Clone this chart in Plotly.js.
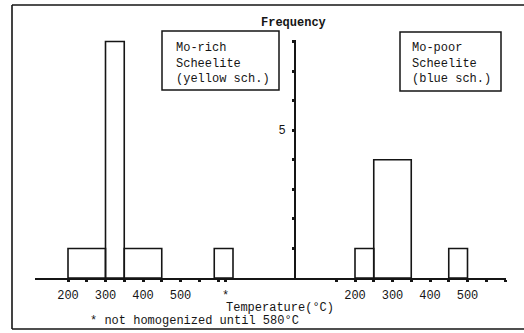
<!DOCTYPE html>
<html>
<head>
<meta charset="utf-8">
<script src="https://cdn.plot.ly/plotly-3.0.1.min.js"></script>
<style>html,body{margin:0;padding:0;background:#fff;}#chart{width:524px;height:333px;}</style>
</head>
<body>
<div id="chart"></div>
<script>
// ---- data ----
// Mo-rich scheelite (yellow): bin left edges (°C), bin widths, frequencies
const richLeft   = [200, 300, 350, 590];
const richWidth  = [100, 50, 100, 50];
const richFreq   = [1, 8, 1, 1];
// Mo-poor scheelite (blue)
const poorLeft   = [200, 250, 450];
const poorWidth  = [50, 100, 50];
const poorFreq   = [1, 4, 1];
// tick labels
const richTickVals = [200, 250, 300, 350, 400, 450, 500, 550, 600, 620];
const richTickText = ['200', '', '300', '', '400', '', '500', '', '', '*'];
const poorTickVals = [150, 200, 250, 300, 350, 400, 450, 500, 550, 600];
const poorTickText = ['', '200', '', '300', '', '400', '', '500', '', ''];
const freqTickVals = [1, 2, 3, 4, 5, 6, 7, 8];
const freqTickText = ['', '', '', '', '5', '', '', ''];
const richLabel = 'Mo-rich<br>Scheelite<br>(yellow sch.)';
const poorLabel = 'Mo-poor<br>Scheelite<br>(blue sch.)';
const xTitle = 'Temperature(°C)';
const yTitle = 'Frequency';
const footnote = '* not homogenized until 580°C';

// ---- layout helpers ----
const W = 524, H = 333, L = 35, R = 18, T = 40, B = 55;
const PW = W - L - R, PH = H - T - B;
const px = v => (v - L) / PW;
const py = v => (H - B - v) / PH;
const split = px(294);
const FONT = '"Liberation Mono", "Courier New", monospace';
const INK = '#151515';

const centers = (left, width) => left.map((v, i) => v + width[i] / 2);

const barStyle = {
  type: 'bar',
  marker: {color: 'rgba(0,0,0,0)', line: {color: INK, width: 1.6}},
  hoverinfo: 'x+y',
  showlegend: false
};

const traces = [
  Object.assign({}, barStyle, {
    x: centers(richLeft, richWidth), y: richFreq, width: richWidth,
    xaxis: 'x', yaxis: 'y', name: 'Mo-rich'
  }),
  Object.assign({}, barStyle, {
    x: centers(poorLeft, poorWidth), y: poorFreq, width: poorWidth,
    xaxis: 'x2', yaxis: 'y', name: 'Mo-poor'
  })
];

const xCommon = {
  showline: true, linecolor: INK, linewidth: 1.6,
  showgrid: false, zeroline: false,
  ticks: 'outside', ticklen: 2, tickwidth: 3, tickcolor: INK,
  tickmode: 'array', anchor: 'y',
  tickfont: {family: FONT, size: 12, color: INK},
  ticklabelstandoff: 3,
  fixedrange: true
};

const layout = {
  width: W, height: H,
  margin: {l: L, r: R, t: T, b: B, pad: 0},
  paper_bgcolor: '#fff', plot_bgcolor: 'rgba(0,0,0,0)',
  barmode: 'overlay',
  font: {family: FONT, size: 12, color: INK},
  xaxis: Object.assign({}, xCommon, {
    domain: [0, split], range: [112, 112 + (294 - L) / 0.375],
    tickvals: richTickVals, ticktext: richTickText
  }),
  xaxis2: Object.assign({}, xCommon, {
    domain: [split, 1], range: [200 - 61 / 0.375, 200 - 61 / 0.375 + (W - R - 294) / 0.375],
    tickvals: poorTickVals, ticktext: poorTickText
  }),
  yaxis: {
    anchor: 'free', position: split, range: [0, 8.05],
    showline: true, linecolor: INK, linewidth: 1.6,
    showgrid: false, zeroline: false,
    ticks: 'outside', ticklen: 2, tickwidth: 3, tickcolor: INK,
    tickmode: 'array', tickvals: freqTickVals, ticktext: freqTickText,
    tickfont: {family: FONT, size: 12, color: INK},
    ticklabelstandoff: 4,
    fixedrange: true
  },
  shapes: [
    // outer frame
    {type: 'line', xref: 'paper', yref: 'paper', x0: px(12), x1: px(530), y0: py(5), y1: py(5), line: {color: INK, width: 1.6}},
    {type: 'line', xref: 'paper', yref: 'paper', x0: px(12), x1: px(12), y0: py(5), y1: py(329), line: {color: INK, width: 1.6}},
    {type: 'line', xref: 'paper', yref: 'paper', x0: px(12), x1: px(530), y0: py(329), y1: py(329), line: {color: INK, width: 1.6}},
    // label boxes
    {type: 'rect', xref: 'paper', yref: 'paper', x0: px(162), x1: px(279), y0: py(31), y1: py(90), line: {color: INK, width: 1.5}},
    {type: 'rect', xref: 'paper', yref: 'paper', x0: px(400), x1: px(501), y0: py(32), y1: py(91), line: {color: INK, width: 1.5}}
  ],
  annotations: [
    {xref: 'paper', yref: 'paper', x: px(174), y: py(63), xanchor: 'left', yanchor: 'middle', align: 'left',
     text: richLabel, showarrow: false, font: {family: FONT, size: 12, color: INK}},
    {xref: 'paper', yref: 'paper', x: px(410), y: py(63), xanchor: 'left', yanchor: 'middle', align: 'left',
     text: poorLabel, showarrow: false, font: {family: FONT, size: 12, color: INK}},
    {xref: 'paper', yref: 'paper', x: px(293), y: py(23), xanchor: 'center', yanchor: 'middle',
     text: yTitle, showarrow: false, font: {family: FONT, size: 12, color: INK, weight: 'bold'}},
    {xref: 'paper', yref: 'paper', x: px(280), y: py(308), xanchor: 'center', yanchor: 'middle',
     text: xTitle, showarrow: false, font: {family: FONT, size: 12, color: INK}},
    {xref: 'paper', yref: 'paper', x: px(194), y: py(321), xanchor: 'center', yanchor: 'middle',
     text: footnote, showarrow: false, font: {family: FONT, size: 12, color: INK}}
  ]
};

Plotly.newPlot('chart', traces, layout, {displayModeBar: false, staticPlot: true});
</script>
</body>
</html>
